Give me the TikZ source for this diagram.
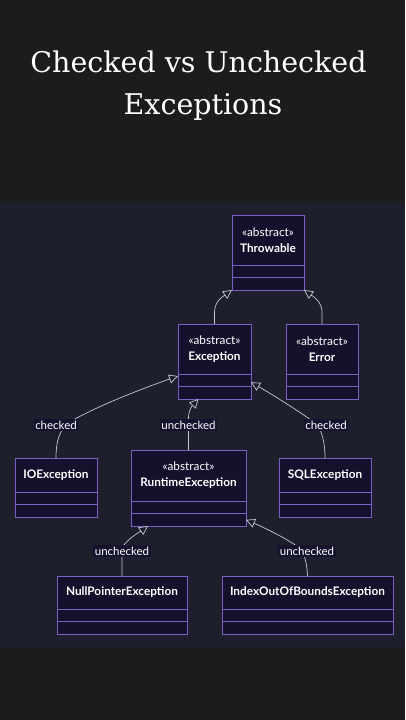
\documentclass[tikz,border=0pt]{standalone}
\usepackage{fontspec}
\setmainfont{DejaVu Serif}
\setsansfont{Lato}
\usetikzlibrary{positioning,arrows.meta}

\definecolor{pagebg}{HTML}{1C1C1C}
\definecolor{chartbg}{HTML}{1E1F2D}
\definecolor{boxfill}{HTML}{13112B}
\definecolor{boxline}{HTML}{7B5FC2}
\definecolor{edgeline}{HTML}{C8C8D2}
\definecolor{lblfill}{HTML}{15132E}

\tikzset{
  classhead/.style={draw=boxline, fill=boxfill, line width=0.9pt, anchor=north west,
    outer sep=0pt, inner sep=0pt, text=white, align=center,
    font=\sffamily\fontsize{11.8}{16}\selectfont},
  classpart/.style={draw=boxline, fill=boxfill, line width=0.9pt, outer sep=0pt,
    inner sep=0pt, minimum height=12.5},
  extends/.style={draw=edgeline, line width=0.7pt, -{Triangle[open, length=9pt, width=9pt]}},
  edgelabel/.style={fill=lblfill, text=white, inner sep=1.5pt,
    font=\sffamily\fontsize{11.5}{13}\selectfont},
  titletext/.style={anchor=base, text=white, font=\fontsize{28.5}{34}\selectfont}
}

\newcommand{\umlclass}[6]{%
  \node[classhead, minimum width=#4, minimum height=#5] (#1) at (#2,#3) {#6};
  \node[classpart, minimum width=#4, below=0pt of #1] (#1-a) {};
  \node[classpart, minimum width=#4, below=0pt of #1-a] (#1-b) {};
}

\begin{document}
\begin{tikzpicture}[x=1pt,y=-1pt]
  \useasboundingbox (0,0) rectangle (405,720);
  \fill[pagebg] (0,0) rectangle (405,720);
  \fill[chartbg] (0,202) rectangle (405,647);

  \node[titletext] (title-a) at (198.5,72) {Checked vs Unchecked};
  \node[titletext] (title-b) at (203,114) {Exceptions};

  \umlclass{throwable}{232}{215}{72}{50}{«abstract»\\\textbf{Throwable}}
  \umlclass{exception}{178}{324}{73}{50}{«abstract»\\\textbf{Exception}}
  \umlclass{error}{286}{324}{72}{50}{«abstract»\\\textbf{Error}}
  \umlclass{io}{15}{458}{82}{34}{\textbf{IOException}}
  \umlclass{re}{131}{450}{115}{51}{«abstract»\\\textbf{RuntimeException}}
  \umlclass{sql}{279}{458}{92}{34}{\textbf{SQLException}}
  \umlclass{npe}{57}{576}{130}{33}{\textbf{NullPointerException}}
  \umlclass{iob}{222}{576}{171}{33}{\textbf{IndexOutOfBoundsException}}

  \draw[extends] (exception.north) -- (214.5,312) .. controls (214.5,302) and (222,297) .. (throwable-b.south west);
  \draw[extends] (error.north) -- (322,312) .. controls (322,302) and (314,297) .. (throwable-b.south east);
  \draw[extends] (io.north) .. controls (56,440) and (60,432) .. (66,424) .. controls (100,404) and (150,386) .. ([yshift=-2pt]exception-a.north west);
  \draw[extends] (re.north) -- (188.5,418) .. controls (188.5,410) and (192,406) .. ([xshift=-16pt]exception-b.south);
  \draw[extends] (sql.north) .. controls (325,445) and (323,435) .. (318,425) .. controls (300,412) and (275,396) .. ([yshift=-2pt]exception-a.east);
  \draw[extends] (npe.north) -- (122,548) .. controls (126,540) and (138,533) .. ([xshift=17pt]re-b.south west);
  \draw[extends] (iob.north) .. controls (307,566) and (306,560) .. (302,550) .. controls (290,540) and (265,528) .. (re-b.east);

  \node[edgelabel] (lbl-io) at (56,425) {checked};
  \node[edgelabel] (lbl-re) at (188.5,425) {unchecked};
  \node[edgelabel] (lbl-sql) at (326,425) {checked};
  \node[edgelabel] (lbl-npe) at (122,551) {unchecked};
  \node[edgelabel] (lbl-iob) at (307,551) {unchecked};
\end{tikzpicture}
\end{document}
